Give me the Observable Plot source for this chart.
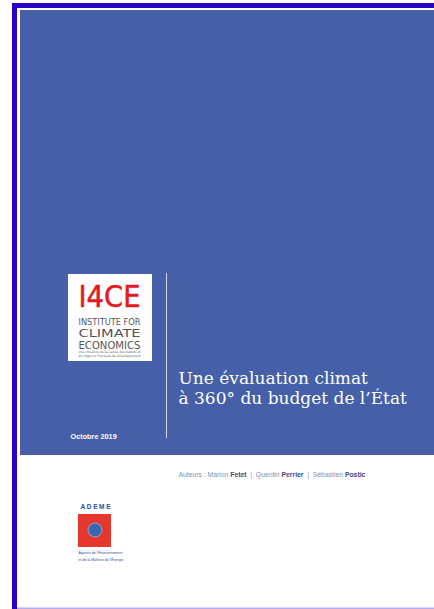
<!DOCTYPE html>
<html><head><meta charset="utf-8">
<script src="https://cdn.jsdelivr.net/npm/d3@7"></script>
<script src="https://cdn.jsdelivr.net/npm/@observablehq/plot@0.6"></script>
<style>body{margin:0;background:#fff;overflow:hidden}</style>
</head><body><div id="chart"></div>
<script>
// Content
const titleLines = ["Une évaluation climat", "à 360° du budget de l’État"];
const dateLabel = ["Octobre 2019"];
const authorPrefix = ["Auteurs : "];
const firstNames = ["Marion", "Quentin", "Sébastien"];
const lastNames = ["Fetet", "Perrier", "Postic"];
const logoMark = ["I4CE"];
const logoWords = ["INSTITUTE FOR", "CLIMATE", "ECONOMICS"];
const logoSmall = ["Une initiative de la Caisse des Dépôts et", "de l’Agence Française de Développement"];
const ademeName = ["ADEME"];
const ademeLines = ["Agence de l’Environnement", "et de la Maîtrise de l’Énergie"];

// Layout (page pixel coordinates)
const blocks = [
  {x1: 12, x2: 17, y1: 3, y2: 609, fill: "#2a00c8"},
  {x1: 12, x2: 434, y1: 3, y2: 8, fill: "#2a00c8"},
  {x1: 17, x2: 434, y1: 607.5, y2: 609, fill: "#b4acf2"},
  {x1: 20, x2: 434, y1: 10, y2: 455, fill: "#4560a8"},
  {x1: 20, x2: 434, y1: 452, y2: 453, fill: "#52599a"},
  {x1: 68, x2: 152, y1: 274, y2: 361, fill: "#ffffff"},
  {x1: 78, x2: 111, y1: 514, y2: 547, fill: "#e5372b"}
];

const titleRows = titleLines.map((t, i) => ({t, x: 178, y: 383 + i * 20}));
const logoRows = logoWords.map((t, i) => ({t, x: 78, y: [324.5, 336.2, 348.2][i], size: [8.5, 10, 10][i]}));
const logoSmallRows = logoSmall.map((t, i) => ({t, x: 78, y: 352.8 + i * 4}));
const ademeRows = ademeLines.map((t, i) => ({t, x: 78, y: 553 + i * 7}));
const authorLine = [{t: authorPrefix[0], x: 178, y: 476}];
const condensed = "'DejaVu Sans Condensed', 'DejaVu Sans', sans-serif";

const chart = Plot.plot({
  width: 434, height: 609,
  margin: 0,
  x: {domain: [0, 434], range: [0, 434], axis: null},
  y: {domain: [0, 609], range: [0, 609], axis: null},
  style: {background: "transparent"},
  marks: [
    Plot.rect(blocks, {x1: "x1", x2: "x2", y1: "y1", y2: "y2", fill: d => d.fill}),
    Plot.ruleX([166], {y1: 273, y2: 438, stroke: "#ffffff", strokeOpacity: 0.75, strokeWidth: 1}),
    // I4CE logo
    Plot.text(logoMark, {x: 78, y: 306, text: d => d, fill: "#e21b22", stroke: "#e21b22", strokeWidth: 0.5, fontSize: 30, fontFamily: condensed, textAnchor: "start", lineAnchor: "bottom", className: "fit62"}),
    Plot.text(logoRows, {x: "x", y: "y", text: "t", fill: "#555", fontSize: d => d.size, fontFamily: condensed, textAnchor: "start", lineAnchor: "bottom", className: "fit62"}),
    Plot.text(logoSmallRows, {x: "x", y: "y", text: "t", fill: "#666", fontSize: 3.2, fontFamily: "DejaVu Sans", textAnchor: "start", lineAnchor: "bottom", className: "fit62"}),
    // Title
    Plot.text(titleRows, {x: "x", y: "y", text: "t", fill: "#ffffff", fontSize: 17, fontFamily: "DejaVu Serif", textAnchor: "start", lineAnchor: "bottom"}),
    // Date
    Plot.text(dateLabel, {x: 70, y: 438, text: d => d, fill: "#ffffff", fontSize: 7.3, fontWeight: "bold", fontFamily: "Liberation Sans", textAnchor: "start", lineAnchor: "bottom"}),
    // Authors
    Plot.text(authorLine, {x: "x", y: "y", text: "t", fill: "#8a8fa8", fontSize: 6.8, fontFamily: "Liberation Sans", textAnchor: "start", lineAnchor: "bottom", className: "authors"}),
    // ADEME
    Plot.text(ademeName, {x: 80, y: 508, text: d => d, fill: "#2b4f9e", fontSize: 6.5, fontWeight: "bold", fontFamily: "Liberation Sans", textAnchor: "start", lineAnchor: "bottom", className: "ademe"}),
    Plot.dot([0], {x: 94.5, y: 529.5, r: 7, fill: "#3b66b3", stroke: "#9fb8e0", strokeWidth: 0.8}),
    Plot.text(ademeRows, {x: "x", y: "y", text: "t", fill: "#3a4d8f", fontSize: 3.8, fontFamily: "Liberation Sans", textAnchor: "start", lineAnchor: "bottom", className: "ademesmall"})
  ]
});
chart.style.display = "block";
document.getElementById("chart").appendChild(chart);

const svg = d3.select(chart);
svg.selectAll(".fit62 text").attr("textLength", 62).attr("lengthAdjust", "spacingAndGlyphs");
svg.selectAll(".ademe text").attr("textLength", 30).attr("lengthAdjust", "spacing");
svg.selectAll(".ademesmall text").attr("textLength", (d, i) => [44, 45][i]).attr("lengthAdjust", "spacingAndGlyphs");

// Author names: mix regular first names and bold last names as tspans
const authorText = svg.select(".authors text");
firstNames.forEach((f, i) => {
  authorText.append("tspan").style("fill", "#8a8fa8").text(f + " ");
  authorText.append("tspan").style("font-weight", "bold").style("fill", "#3c4a86").text(lastNames[i]);
  if (i < firstNames.length - 1) authorText.append("tspan").style("fill", "#8a8fa8").text("  |  ");
});
</script>
</body></html>
